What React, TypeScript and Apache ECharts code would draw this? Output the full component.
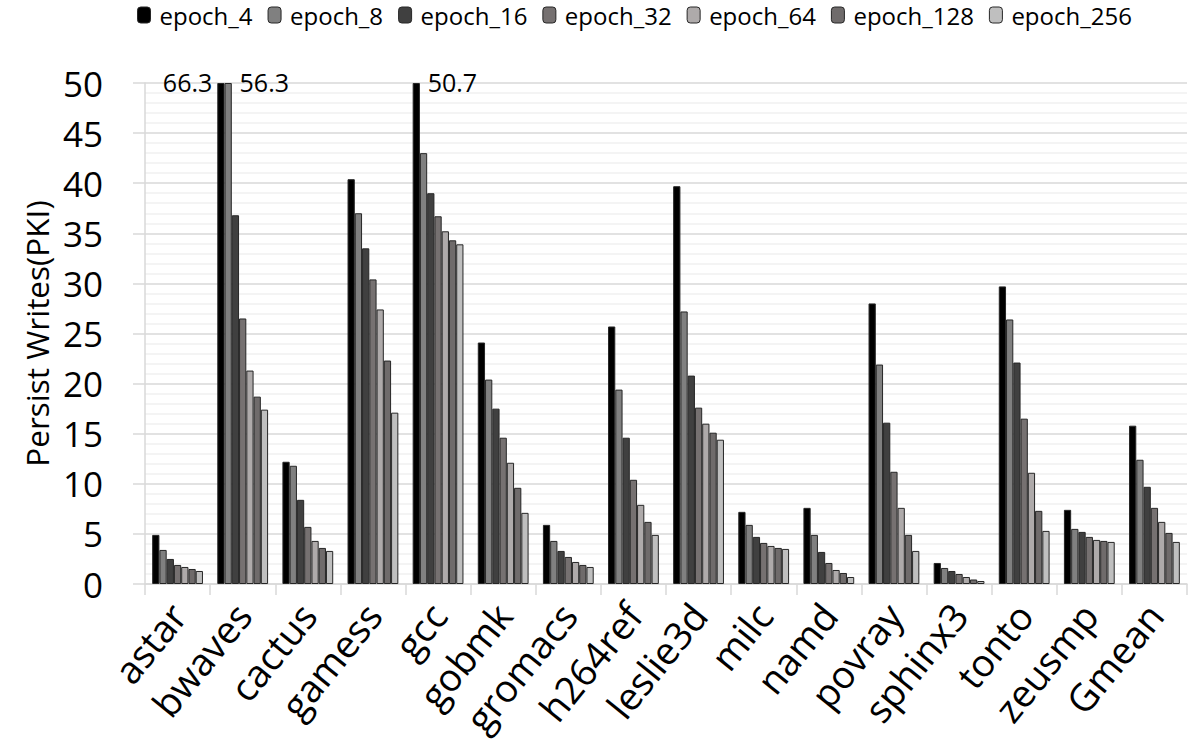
import React, { useEffect, useRef } from "react";
import * as echarts from "echarts";

const categories = [
  "astar", "bwaves", "cactus", "gamess", "gcc", "gobmk", "gromacs", "h264ref",
  "leslie3d", "milc", "namd", "povray", "sphinx3", "tonto", "zeusmp", "Gmean",
];

const seriesNames = ["epoch_4", "epoch_8", "epoch_16", "epoch_32", "epoch_64", "epoch_128", "epoch_256"];

const epoch_4 = [4.9, 66.3, 12.2, 40.4, 50.7, 24.1, 5.9, 25.7, 39.7, 7.2, 7.6, 28.0, 2.1, 29.7, 7.4, 15.8];
const epoch_8 = [3.4, 56.3, 11.8, 37.0, 43.0, 20.4, 4.3, 19.4, 27.2, 5.9, 4.9, 21.9, 1.6, 26.4, 5.5, 12.4];
const epoch_16 = [2.5, 36.8, 8.4, 33.5, 39.0, 17.5, 3.3, 14.6, 20.8, 4.7, 3.2, 16.1, 1.3, 22.1, 5.2, 9.7];
const epoch_32 = [1.9, 26.5, 5.7, 30.4, 36.7, 14.6, 2.7, 10.4, 17.6, 4.1, 2.1, 11.2, 1.0, 16.5, 4.7, 7.6];
const epoch_64 = [1.7, 21.3, 4.3, 27.4, 35.2, 12.1, 2.2, 7.9, 16.0, 3.8, 1.4, 7.6, 0.7, 11.1, 4.4, 6.2];
const epoch_128 = [1.5, 18.7, 3.6, 22.3, 34.3, 9.6, 1.9, 6.2, 15.1, 3.6, 1.1, 4.9, 0.45, 7.3, 4.3, 5.1];
const epoch_256 = [1.3, 17.4, 3.3, 17.1, 33.9, 7.1, 1.7, 4.9, 14.4, 3.5, 0.7, 3.3, 0.3, 5.3, 4.2, 4.2];

const seriesValues = [epoch_4, epoch_8, epoch_16, epoch_32, epoch_64, epoch_128, epoch_256];
const colors = ["#000000", "#808080", "#404040", "#767171", "#aeaaaa", "#6f6b6b", "#bfbfbf"];

const yMax = 50;
const yTicks = ["0", "5", "10", "15", "20", "25", "30", "35", "40", "45", "50"];

const FONT = "'Open Sans', 'Noto Sans', sans-serif";

export default function App() {
  const ref = useRef<HTMLDivElement>(null);
  useEffect(() => {
    if (!ref.current) return;
    const chart = echarts.init(ref.current, undefined, { renderer: "svg" });
    const series = seriesNames.map((name, si) => ({
      name,
      type: "bar",
      barGap: "0%",
      barCategoryGap: "22%",
      itemStyle: { color: colors[si], borderColor: "#262626", borderWidth: 1 },
      data: seriesValues[si].map((v) => {
        if (v > yMax) {
          const leftSide = si === 0 && v > 60;
          return {
            value: yMax,
            label: {
              show: true,
              formatter: String(v),
              position: leftSide ? [-5, -1] : [15, -1],
              align: leftSide ? "right" : "left",
              verticalAlign: "middle",
              fontSize: 25,
              color: "#000",
              fontFamily: FONT,
            },
          };
        }
        return { value: v };
      }),
    }));
    chart.setOption({
      animation: false,
      legend: {
        top: 3,
        left: 137,
        padding: 0,
        itemWidth: 13,
        itemHeight: 16,
        itemGap: 15,
        textStyle: { fontSize: 24, color: "#000", fontFamily: FONT, padding: [0, 0, 0, 4] },
        data: seriesNames.map((n, i) => ({ name: n, itemStyle: { color: colors[i], borderColor: "#262626", borderWidth: 1 } })),
      },
      grid: { left: 145, right: 9, top: 83, bottom: 164, containLabel: false },
      xAxis: {
        type: "category",
        data: categories,
        axisLine: { lineStyle: { color: "#d9d9d9", width: 1.5 } },
        axisTick: { show: true, length: 11, lineStyle: { color: "#d9d9d9", width: 1.5 } },
        axisLabel: { rotate: 51, fontSize: 38, color: "#000", fontFamily: FONT, margin: 24, interval: 0 },
      },
      yAxis: {
        type: "value",
        min: 0,
        max: yMax,
        interval: 5,
        name: "Persist Writes(PKI)",
        nameLocation: "middle",
        nameGap: 92,
        nameTextStyle: { fontSize: 31.5, color: "#000", fontFamily: FONT },
        axisLine: { show: true, lineStyle: { color: "#d9d9d9", width: 1.5 } },
        axisTick: { show: true, length: 12, lineStyle: { color: "#d9d9d9", width: 1.5 } },
        axisLabel: {
          fontSize: 35,
          color: "#000",
          fontFamily: FONT,
          margin: 42,
          formatter: (val: number) => yTicks[Math.round(val / 5)] ?? String(val),
        },
        splitLine: { show: true, lineStyle: { color: "#d9d9d9", width: 1.5 } },
        minorTick: { show: false, splitNumber: 5 },
        minorSplitLine: { show: true, lineStyle: { color: "#f0f0f0", width: 1.5 } },
      },
      series,
    });
    return () => chart.dispose();
  }, []);
  return <div ref={ref} style={{ position: "absolute", left: 0, top: 0, width: 1196, height: 748 }} />;
}
